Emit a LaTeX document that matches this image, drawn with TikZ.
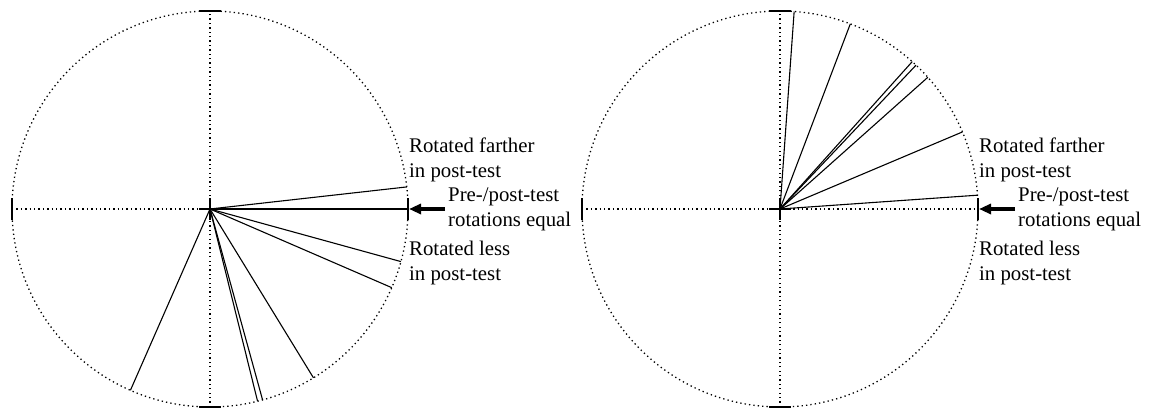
\documentclass[tikz,border=0pt]{standalone}
\usepackage{fontspec}
\setmainfont{Liberation Serif}
\usetikzlibrary{arrows.meta,calc}
\begin{document}
\begin{tikzpicture}[x=1bp,y=1bp,
  dots/.style={line width=1.3bp,dash pattern=on 1.3bp off 3.1bp},
  spoke/.style={line width=1.1bp},
  tick/.style={line width=2bp},
  lbl/.style={anchor=base west,inner sep=0pt,font=\fontsize{20.8bp}{25bp}\selectfont,align=left},
  pointer/.style={line width=3.2bp,-{Triangle[length=12bp,width=10bp]}}]
\useasboundingbox (0,0) rectangle (1150,407);
\coordinate (cL) at (210,198);
\coordinate (cR) at (780,198);
% circles, axes, ticks
\foreach \c in {cL,cR}{
  \draw[dots] (\c) circle[radius=198];
  \draw[dots] ($(\c)+(-198,0)$) -- ($(\c)+(198,0)$);
  \draw[dots] ($(\c)+(0,-198)$) -- ($(\c)+(0,198)$);
  \draw[tick] ($(\c)+(-11,198)$) -- ($(\c)+(11,198)$);
  \draw[tick] ($(\c)+(-11,-198)$) -- ($(\c)+(11,-198)$);
  \draw[tick] ($(\c)+(-198,-11)$) -- ($(\c)+(-198,11)$);
  \draw[tick] ($(\c)+(198,-11)$) -- ($(\c)+(198,11)$);
  \draw[tick] ($(\c)+(-11,0)$) -- ($(\c)+(11,0)$);
  \draw[tick] ($(\c)+(0,-11)$) -- ($(\c)+(0,11)$);
}
% spokes
\foreach \a [count=\i] in {6.4,0,-15.4,-23.4,-58.5,-74.6,-76.1,-113.7}{
  \coordinate (L\i) at ($(cL)+(\a:198)$);
  \draw[spoke] (cL) -- (L\i);
}
\foreach \a [count=\i] in {85.9,69.2,48.1,46.6,41.7,22.9,4.0}{
  \coordinate (R\i) at ($(cR)+(\a:198)$);
  \draw[spoke] (cR) -- (R\i);
}
% labels, left (anchor = baseline of last line)
\node[lbl] (lf) at (409,230) {Rotated farther\\in post-test};
\node[lbl] (le) at (448,181) {Pre-/post-test\\rotations equal};
\node[lbl] (ll) at (409,127) {Rotated less\\in post-test};
\coordinate (laS) at (445,198);
\coordinate (laE) at (409,198);
\draw[pointer] (laS) -- (laE);
% labels, right
\node[lbl] (rf) at (979,230) {Rotated farther\\in post-test};
\node[lbl] (re) at (1018,181) {Pre-/post-test\\rotations equal};
\node[lbl] (rl) at (979,127) {Rotated less\\in post-test};
\coordinate (raS) at (1015,198);
\coordinate (raE) at (979,198);
\draw[pointer] (raS) -- (raE);
\end{tikzpicture}
\end{document}
